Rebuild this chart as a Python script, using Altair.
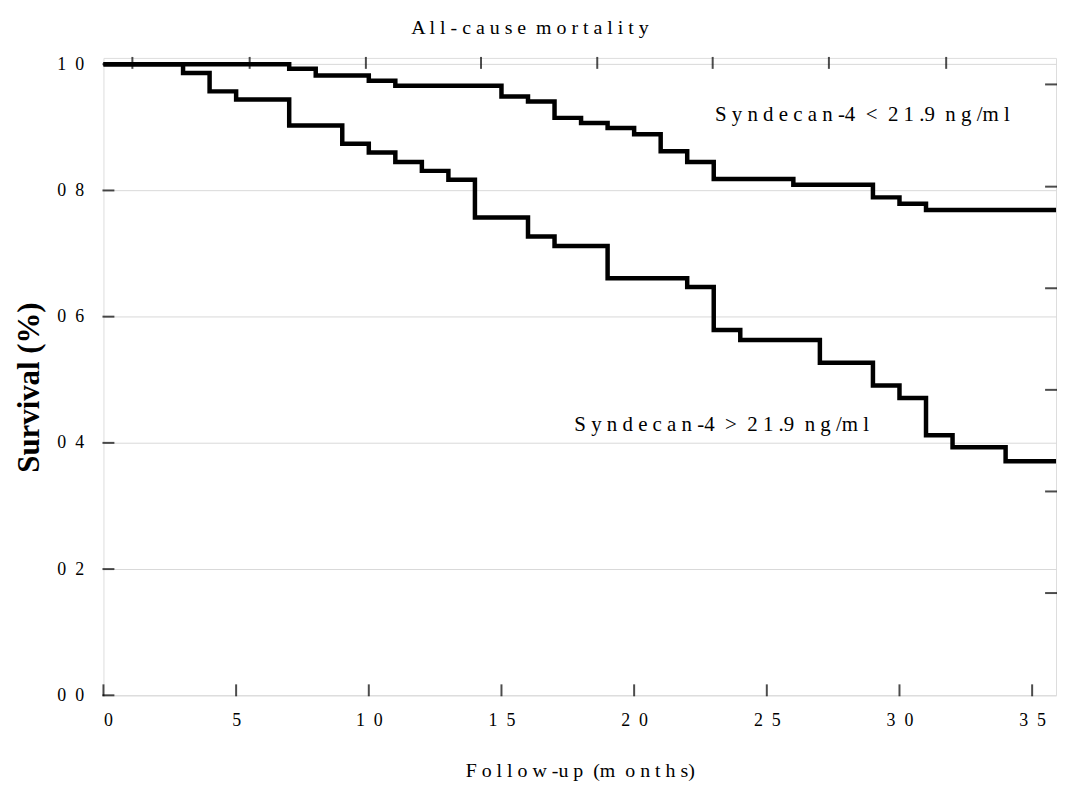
import altair as alt
import pandas as pd

# ---- data ----
low_months = [0, 7, 8, 10, 11, 15, 16, 17, 18, 19, 20, 21, 22, 23, 26, 29, 30, 31, 35.9]
low_surv = [1.0, 0.993, 0.982, 0.974, 0.966, 0.949, 0.941, 0.915, 0.907, 0.899,
            0.889, 0.862, 0.845, 0.818, 0.809, 0.789, 0.779, 0.769, 0.769]

high_months = [0, 3, 4, 5, 7, 9, 10, 11, 12, 13, 14, 16, 17, 19, 22, 23, 24, 27,
               29, 30, 31, 32, 34, 35.9]
high_surv = [1.0, 0.986, 0.957, 0.944, 0.903, 0.874, 0.860, 0.845, 0.831, 0.817,
             0.757, 0.727, 0.712, 0.661, 0.647, 0.579, 0.563, 0.527, 0.491, 0.471,
             0.412, 0.393, 0.371, 0.371]

x_ticks = [0, 5, 10, 15, 20, 25, 30, 35]
y_ticks = [0.0, 0.2, 0.4, 0.6, 0.8, 1.0]
top_ticks = [1.09, 5.51, 9.89, 14.23, 18.61, 22.96, 27.34, 31.76]
right_ticks = [0.968, 0.806, 0.645, 0.484, 0.323, 0.162]

NB = "\u00a0"
ann_labels = ["S y n d e c a n -4 " + NB + "< " + NB + "2 1 .9 " + NB + "n g /m l",
              "S y n d e c a n -4 " + NB + "> " + NB + "2 1 .9 " + NB + "n g /m l"]
ann_months = [28.6, 23.3]
ann_surv = [0.92, 0.429]

X_MAX = 35.9
Y_MAX = 1.01
FONT = "Liberation Serif"

curves = pd.DataFrame(
    {"month": low_months + high_months,
     "surv": low_surv + high_surv,
     "group": ["low"] * len(low_months) + ["high"] * len(high_months)}
)
ann = pd.DataFrame({"label": ann_labels, "month": ann_months, "surv": ann_surv})

xs = alt.Scale(domain=[0, X_MAX], nice=False, zero=False)
ys = alt.Scale(domain=[0, Y_MAX], nice=False, zero=False)

x_axis = alt.Axis(
    values=x_ticks, ticks=False, domain=False, grid=False,
    labelFont=FONT, labelFontSize=18, labelColor="black", labelPadding=16,
    labelExpr="length(toString(datum.value)) > 1 ? slice(toString(datum.value),0,1) + '\u00a0 ' + slice(toString(datum.value),1) : toString(datum.value)",
    title="F o l l o w -u p " + NB + "(m " + NB + "o n t h s)", titleFont=FONT, titleFontSize=20,
    titleFontWeight="normal", titleColor="black",
    titleX=479, titleY=76, titleBaseline="middle", titleAlign="center",
)
y_axis = alt.Axis(
    values=y_ticks, ticks=False, domain=False, grid=True,
    gridColor="#d9d9d9", gridWidth=1,
    labelFont=FONT, labelFontSize=18, labelColor="black", labelPadding=20,
    labelExpr="replace(format(datum.value, '.1f'), '.', '\u00a0 ')",
    title="Survival (%)", titleFont=FONT, titleFontSize=31, titleFontWeight="bold",
    titleColor="black", titleAngle=-90, titleX=-74, titleY=331,
    titleAlign="center", titleBaseline="middle",
)

lines = alt.Chart(curves).mark_line(
    interpolate="step-after", color="black", strokeWidth=4.5, strokeJoin="miter"
).encode(
    x=alt.X("month:Q", scale=xs, axis=x_axis),
    y=alt.Y("surv:Q", scale=ys, axis=y_axis),
    detail="group:N",
)

texts = alt.Chart(ann).mark_text(
    font=FONT, fontSize=21, color="black", align="center", baseline="middle"
).encode(x=alt.X("month:Q", scale=xs), y=alt.Y("surv:Q", scale=ys), text="label:N")

tick_style = dict(color="black", thickness=2, size=12)
bottom_t = alt.Chart(pd.DataFrame({"v": x_ticks})).mark_tick(
    orient="vertical", yOffset=-5, **tick_style
).encode(x=alt.X("v:Q", scale=xs), y=alt.datum(0))
left_t = alt.Chart(pd.DataFrame({"v": y_ticks})).mark_tick(
    orient="horizontal", xOffset=5, **tick_style
).encode(y=alt.Y("v:Q", scale=ys), x=alt.datum(0))
top_t = alt.Chart(pd.DataFrame({"v": top_ticks})).mark_tick(
    orient="vertical", yOffset=5, **tick_style
).encode(x=alt.X("v:Q", scale=xs), y=alt.datum(Y_MAX))
right_t = alt.Chart(pd.DataFrame({"v": right_ticks})).mark_tick(
    orient="horizontal", xOffset=-5, **tick_style
).encode(y=alt.Y("v:Q", scale=ys), x=alt.datum(X_MAX))

chart = alt.layer(lines, texts, bottom_t, left_t, top_t, right_t).properties(
    width=958, height=641,
    title=alt.TitleParams(
        "A l l - c a u s e " + NB + "m o r t a l i t y", font=FONT, fontSize=20,
        fontWeight="normal", color="black", anchor="middle", dx=-50, offset=17,
    ),
    autosize=alt.AutoSizeParams(type="none"),
    padding={"left": 96, "top": 48, "right": 5, "bottom": 85},
).configure_view(stroke="black", strokeWidth=3).configure(background="white")

chart.save("out.html", embed_options={"renderer": "svg", "actions": False})
